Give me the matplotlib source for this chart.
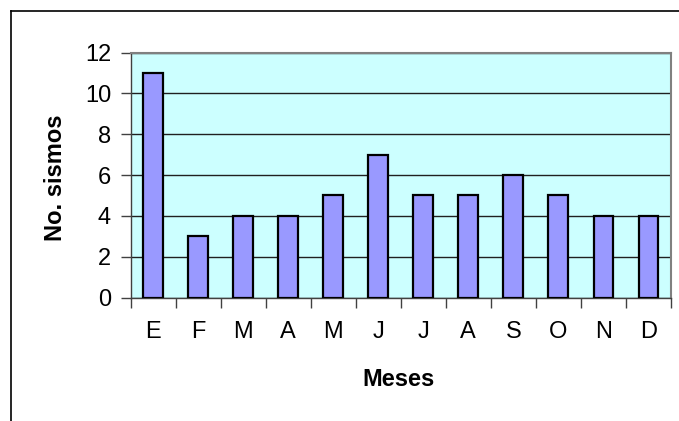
import numpy as np
import matplotlib.pyplot as plt
from matplotlib.lines import Line2D

meses = ['E', 'F', 'M', 'A', 'M', 'J', 'J', 'A', 'S', 'O', 'N', 'D']
sismos = [11, 3, 4, 4, 5, 7, 5, 5, 6, 5, 4, 4]

plt.rcParams['font.family'] = ['Liberation Sans', 'DejaVu Sans']

fig = plt.figure(figsize=(6.79, 4.21), dpi=100)
ax = fig.add_axes([130.5 / 679, 123.5 / 421, 540.5 / 679, 245 / 421])
ax.set_facecolor('#CCFFFF')

x = np.arange(len(meses))
ax.bar(x, sismos, width=0.44, color='#9999FF', edgecolor='black', linewidth=1.6, zorder=3)

ax.set_xlim(-0.5, len(meses) - 0.5)
ax.set_ylim(0, 12)
ax.set_yticks(np.arange(0, 13, 2))
ax.yaxis.grid(True, color='#202020', linewidth=1.0, zorder=1)
ax.set_axisbelow(True)

# ticks at category boundaries, labels at centers
ax.set_xticks(np.arange(-0.5, len(meses), 1.0))
ax.set_xticklabels([])
ax.set_xticks(x, minor=True)
ax.set_xticklabels(meses, minor=True)
ax.tick_params(axis='x', which='major', direction='out', length=7, width=1, color='#404040')
ax.tick_params(axis='x', which='minor', length=0, pad=17, labelsize=17)
ax.tick_params(axis='y', direction='out', length=7, width=1, color='#404040', labelsize=17, pad=7)

for s in ['top', 'right']:
    ax.spines[s].set_color('#808080')
    ax.spines[s].set_linewidth(1.5)
for s in ['left', 'bottom']:
    ax.spines[s].set_color('#404040')
    ax.spines[s].set_linewidth(1.0)

fig.text(399 / 679, 1 - 380 / 421, 'Meses', ha='center', va='center', fontsize=17, fontweight='bold')
fig.text(55 / 679, 1 - 178 / 421, 'No. sismos', ha='center', va='center', rotation=90,
         fontsize=17, fontweight='bold')

# outer chart border (only top and left visible)
fig.add_artist(Line2D([10.5 / 679, 10.5 / 679], [0, 1 - 10.5 / 421], color='black', lw=1.2,
                      transform=fig.transFigure))
fig.add_artist(Line2D([10.5 / 679, 1], [1 - 10.5 / 421, 1 - 10.5 / 421], color='black', lw=1.2,
                      transform=fig.transFigure))

fig.savefig('out.png', dpi=100)
